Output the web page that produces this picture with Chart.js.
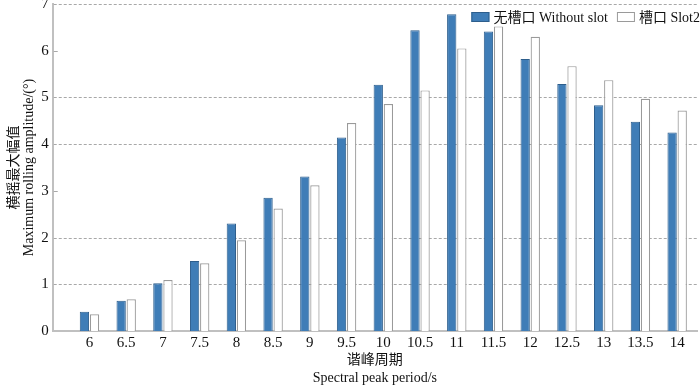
<!DOCTYPE html>
<html>
<head>
<meta charset="utf-8">
<script src="https://cdn.jsdelivr.net/npm/chart.js@4"></script>
<style>
  html, body { margin: 0; padding: 0; background: #fff; }
  #wrap { width: 700px; height: 388px; }
</style>
</head>
<body>
<div id="wrap"><canvas id="chart"></canvas></div>
<script>
// peak periods (s) on the x axis
const periods = [6, 6.5, 7, 7.5, 8, 8.5, 9, 9.5, 10, 10.5, 11, 11.5, 12, 12.5, 13, 13.5, 14];
// max rolling amplitude (deg)
const withoutSlot = [0.41, 0.65, 1.02, 1.50, 2.30, 2.85, 3.31, 4.14, 5.27, 6.44, 6.78, 6.41, 5.82, 5.29, 4.83, 4.48, 4.25];
const slot2 = [0.36, 0.68, 1.09, 1.45, 1.94, 2.62, 3.12, 4.45, 4.86, 5.15, 6.05, 6.52, 6.30, 5.67, 5.37, 4.97, 4.72];
const yTicks = [0, 1, 2, 3, 4, 5, 6, 7];
const gridAt = [1, 2, 4, 5, 7];

const serif = "'Liberation Serif', 'Noto Sans CJK SC', serif";

function pts(vals) {
  return periods.map((p, i) => ({ x: p, y: vals[i] }));
}

// dotted grid only at some y values, plus short inner tick marks at the others
const dottedGrid = {
  id: "dottedGrid",
  beforeDatasetsDraw(chart) {
    const c = chart.ctx;
    const area = chart.chartArea;
    const y = chart.scales.y;
    c.save();
    c.lineWidth = 1;
    c.strokeStyle = "#a8a8a8";
    yTicks.forEach((v) => {
      if (v === 0) return;
      const py = Math.round(y.getPixelForValue(v)) + 0.5;
      c.beginPath();
      if (gridAt.includes(v)) {
        c.setLineDash([3, 2]);
        c.moveTo(area.left + 1, py);
        c.lineTo(area.right, py);
      } else {
        c.setLineDash([]);
        c.moveTo(area.left + 1, py);
        c.lineTo(area.left + 5, py);
      }
      c.stroke();
    });
    c.restore();
  },
};

// legend drawn inside the plot, top right
const innerLegend = {
  id: "innerLegend",
  afterDraw(chart) {
    const c = chart.ctx;
    const area = chart.chartArea;
    c.save();
    c.font = "14px " + serif;
    c.textBaseline = "middle";
    const items = chart.data.datasets.map((d) => ({
      text: d.label, fill: d.backgroundColor, stroke: d.borderColor, w: c.measureText(d.label).width,
    }));
    const boxW = 18, boxH = 10, gapIn = 4, gapOut = 9;
    let total = 0;
    items.forEach((it, i) => { total += boxW + gapIn + it.w + (i ? gapOut : 0); });
    let x = area.right + 3 - total;
    const y = area.top + 13;
    items.forEach((it) => {
      c.fillStyle = it.fill;
      c.fillRect(x, y - boxH / 2, boxW, boxH);
      c.strokeStyle = it.stroke;
      c.lineWidth = 1;
      c.strokeRect(x + 0.5, y - boxH / 2 + 0.5, boxW - 1, boxH - 1);
      c.fillStyle = "#111";
      c.fillText(it.text, x + boxW + gapIn, y + 1);
      x += boxW + gapIn + it.w + gapOut;
    });
    c.restore();
  },
};

const ctx = document.getElementById("chart");
new Chart(ctx, {
  type: "bar",
  data: {
    datasets: [
      {
        label: "无槽口 Without slot",
        data: pts(withoutSlot),
        backgroundColor: "#3f7db7",
        borderColor: "#2d5e8c",
        borderWidth: 1,
        categoryPercentage: 0.55,
        barPercentage: 0.92,
      },
      {
        label: "槽口 Slot2",
        data: pts(slot2),
        backgroundColor: "#ffffff",
        borderColor: "#9a9a9a",
        borderWidth: 1.2,
        categoryPercentage: 0.55,
        barPercentage: 0.92,
      },
    ],
  },
  plugins: [dottedGrid, innerLegend],
  options: {
    responsive: true,
    maintainAspectRatio: false,
    animation: false,
    layout: { padding: { top: 0, right: 3, left: 7, bottom: 1 } },
    plugins: {
      tooltip: { enabled: false },
      legend: { display: false },
    },
    scales: {
      x: {
        type: "linear",
        offset: false,
        min: 5.5,
        max: 14.27,
        afterBuildTicks: (axis) => {
          axis.ticks = periods.map((v) => ({ value: v }));
        },
        afterFit: (s) => {
          s.height = 56;
        },
        grid: { display: false, drawTicks: false },
        border: { display: true, color: "#c0c0c0", width: 2 },
        ticks: {
          autoSkip: false,
          maxRotation: 0,
          color: "#111",
          font: { family: serif, size: 15, lineHeight: 0.9 },
          padding: 5,
          callback: (v) => String(v),
        },
        title: {
          display: true,
          text: ["谐峰周期", "Spectral peak period/s"],
          color: "#111",
          font: { family: serif, size: 14, lineHeight: 1.29 },
          padding: { top: 0, bottom: 0 },
        },
      },
      y: {
        min: 0,
        max: 7,
        afterBuildTicks: (axis) => {
          axis.ticks = yTicks.map((v) => ({ value: v }));
        },
        afterFit: (s) => {
          s.paddingTop = 4;
        },
        grid: { display: false, drawTicks: false },
        border: { display: true, color: "#c0c0c0", width: 2 },
        ticks: {
          color: "#111",
          font: { family: serif, size: 15, lineHeight: 0.6 },
          padding: 4,
        },
        title: {
          display: true,
          text: ["横摇最大幅值", "Maximum rolling amplitude/(°)"],
          color: "#111",
          font: { family: serif, size: 14, lineHeight: 1.08 },
          padding: { top: 0, bottom: 0 },
        },
      },
    },
  },
});
</script>
</body>
</html>
